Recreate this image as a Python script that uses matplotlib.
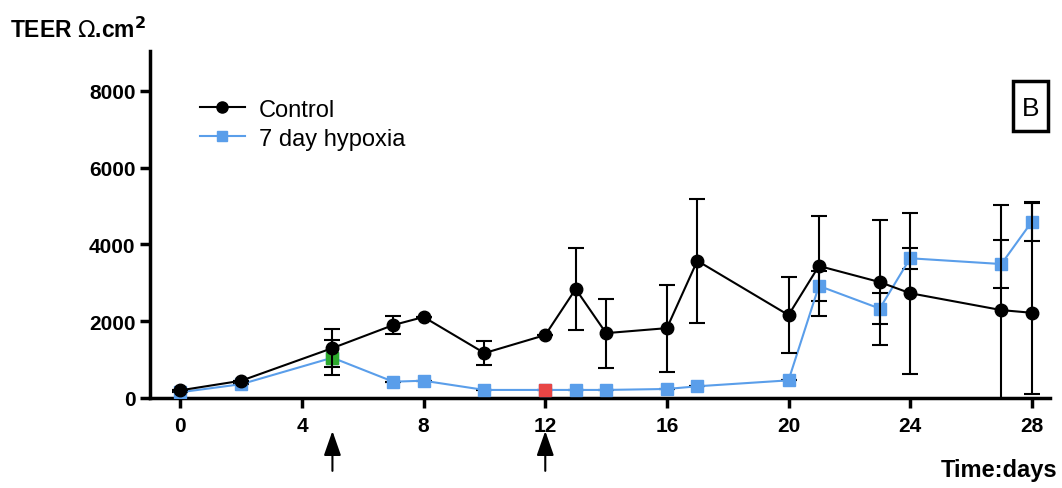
import matplotlib
matplotlib.use("Agg")
import matplotlib.pyplot as plt
from matplotlib.lines import Line2D
from matplotlib.patches import Rectangle
import numpy as np

plt.rcParams['font.family'] = ['Liberation Sans', 'DejaVu Sans']

days = [0, 2, 5, 7, 8, 10, 12, 13, 14, 16, 17, 20, 21, 23, 24, 27, 28]
control = [200, 450, 1300, 1900, 2110, 1170, 1640, 2840, 1690, 1820, 3575, 2160, 3440, 3020, 2730, 2290, 2220]
control_err_low = [0, 0, 500, 225, 0, 315, 0, 1070, 900, 1130, 1620, 990, 1310, 1630, 2100, 2740, 2120]
control_err_high = [0, 0, 500, 225, 0, 315, 0, 1070, 900, 1130, 1620, 990, 1310, 1630, 2100, 2740, 2880]
hypoxia = [150, 360, 1050, 425, 450, 210, 210, 210, 210, 235, 305, 460, 2920, 2330, 3640, 3490, 4590]
hypoxia_err = [0, 0, 460, 0, 0, 0, 0, 0, 0, 0, 0, 0, 390, 400, 270, 620, 490]
xticks = [0, 4, 8, 12, 16, 20, 24, 28]
yticks = [0, 2000, 4000, 6000, 8000]
arrow_days = [5, 12]
green_day = 5
red_day = 12

blue = "#5A9EEA"
fig = plt.figure(figsize=(10.62, 4.89), dpi=100)
ax = fig.add_axes([150/1062, 1-399/489, 900/1062, 347/489])

ax.errorbar(days, hypoxia, yerr=hypoxia_err, color=blue, lw=1.5, marker='s', ms=8,
            mfc=blue, mec=blue, ecolor='black', elinewidth=1.5, capsize=6, capthick=1.5,
            zorder=3)
ax.errorbar(days, control, yerr=[control_err_low, control_err_high], color='black', lw=1.5,
            marker='o', ms=9, ecolor='black', elinewidth=1.5, capsize=6, capthick=1.5,
            zorder=4)
gi = days.index(green_day)
ri = days.index(red_day)
ax.plot([green_day], [hypoxia[gi]], marker='s', ms=8, color='#2DAA2D', ls='none', zorder=3.5)
ax.plot([red_day], [hypoxia[ri]], marker='s', ms=8, color='#E84545', ls='none', zorder=3.5)

ax.set_xlim(-1, 28.6)
ax.set_ylim(0, 9040)
ax.set_xticks(xticks)
ax.set_yticks(yticks)
for lab in ax.get_xticklabels() + ax.get_yticklabels():
    lab.set_fontweight('bold')
ax.tick_params(axis='both', labelsize=15, width=2.5, length=7, direction='out')
ax.tick_params(axis='x', pad=6)
for s in ['top', 'right']:
    ax.spines[s].set_visible(False)
for s in ['left', 'bottom']:
    ax.spines[s].set_linewidth(2.5)

h_ctrl = Line2D([], [], color='black', lw=1.5, marker='o', ms=8)
h_hyp = Line2D([], [], color=blue, lw=1.5, marker='s', ms=7)
ax.legend([h_ctrl, h_hyp], ['Control', '7 day hypoxia'],
          loc='upper left', bbox_to_anchor=(0.045, 0.89), frameon=False,
          fontsize=17, handlelength=1.9, borderaxespad=0, labelspacing=0.3, handletextpad=0.6)

for d in arrow_days:
    ax.annotate('', xy=(d, -0.095), xytext=(d, -0.21), xycoords=('data', 'axes fraction'),
                textcoords=('data', 'axes fraction'),
                arrowprops=dict(arrowstyle='-|>,head_length=1.0,head_width=0.35', color='black',
                                lw=1.5, mutation_scale=15, shrinkA=0, shrinkB=0),
                annotation_clip=False)

fig.text(10/1062, 1-30/489, r'TEER $\mathrm{\Omega}$.cm$^{\mathbf{2}}$', fontsize=16.5,
         fontweight='bold', va='center', ha='left')
fig.text(1057/1062, 1-471/489, 'Time:days', fontsize=17, fontweight='bold', va='center', ha='right')
fig.patches.append(Rectangle((1013/1062, 1-132/489), 35/1062, 50/489, transform=fig.transFigure,
                             fill=False, ec='black', lw=2.5))
fig.text(1030.5/1062, 1-108.5/489, 'B', fontsize=19, ha='center', va='center')

fig.savefig('out.png', dpi=100)
